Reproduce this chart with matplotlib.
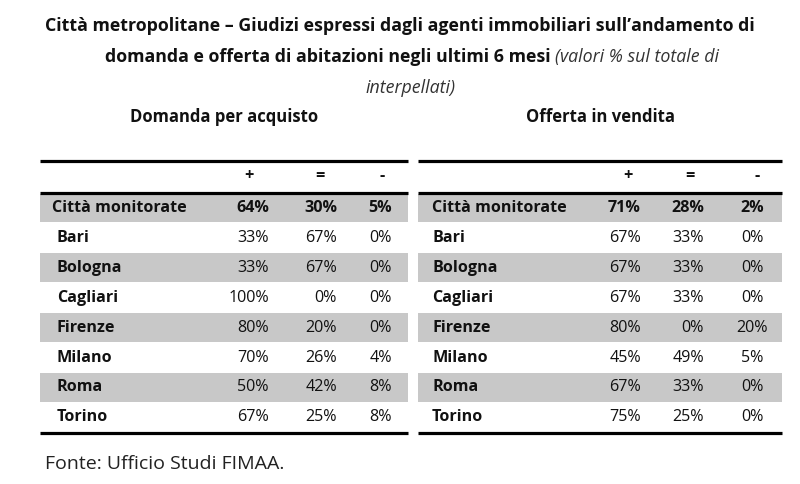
import matplotlib
matplotlib.use("Agg")
import matplotlib.pyplot as plt

plt.rcParams['font.family'] = ['Open Sans', 'DejaVu Sans']

# ── data ──────────────────────────────────────────────
cities = ["Città monitorate", "Bari", "Bologna", "Cagliari", "Firenze",
          "Milano", "Roma", "Torino"]
col_heads = ["+", "=", "-"]

dom_plus = [64, 33, 33, 100, 80, 70, 50, 67]
dom_eq = [30, 67, 67, 0, 20, 26, 42, 25]
dom_minus = [5, 0, 0, 0, 0, 4, 8, 8]

off_plus = [71, 67, 67, 67, 80, 45, 67, 75]
off_eq = [28, 33, 33, 33, 0, 49, 33, 25]
off_minus = [2, 0, 0, 0, 20, 5, 0, 0]

title1 = "Città metropolitane – Giudizi espressi dagli agenti immobiliari sull’andamento di"
title2_bold = "domanda e offerta di abitazioni negli ultimi 6 mesi "
title2_ital = "(valori % sul totale di"
title3_ital = "interpellati)"
sub_left = "Domanda per acquisto"
sub_right = "Offerta in vendita"
source = "Fonte: Ufficio Studi FIMAA."

# ── layout (pixel canvas) ─────────────────────────────
W, H = 800, 484
fig = plt.figure(figsize=(W / 100, H / 100), dpi=100)
ax = fig.add_axes([0, 0, 1, 1])
ax.set_xlim(0, W)
ax.set_ylim(H, 0)
ax.axis('off')

TXT = '#111111'
GRAY = '#c8c8c8'
row0, row_h = 208, 29.9
cell_fs = 11.6


def draw_table(x0, x1, label_x, label_indent, col_x, col_align, head_x, cols):
    rows_y = [row0 + i * row_h for i in range(len(cities))]
    # gray bands on alternate rows
    band_y = rows_y[0::2]
    ax.barh(band_y, [x1 - x0] * len(band_y), left=x0, height=row_h - 1,
            color=GRAY, zorder=0)
    # rules
    ax.hlines([161, 193, 433], x0, x1, color='black', lw=2.3)
    for hx, h in zip(head_x, col_heads):
        ax.text(hx, 176, h, ha='center', va='center', fontsize=cell_fs,
                fontweight='bold', color=TXT)
    for i, (city, y) in enumerate(zip(cities, rows_y)):
        first = i == 0
        lx = label_x if first else label_x + label_indent
        ax.text(lx, y, city, ha='left', va='center', fontsize=cell_fs,
                fontweight='bold', color=TXT)
        for cx, al, vals in zip(col_x, col_align, cols):
            ax.text(cx, y, f"{vals[i]}%", ha=al, va='center', fontsize=cell_fs,
                    fontweight='bold' if first else 'normal', color=TXT)


draw_table(40, 408, 52, 5, [269, 337, 392], ['right', 'right', 'right'],
           [249, 320, 382], [dom_plus, dom_eq, dom_minus])
draw_table(418, 782, 432, 0, [641, 704, 752], ['right', 'right', 'center'],
           [628, 690, 757], [off_plus, off_eq, off_minus])

# ── titles ────────────────────────────────────────────
tfs = 12.8
ax.text(400, 26, title1, ha='center', va='center', fontsize=tfs,
        fontweight='bold', color=TXT)
r = fig.canvas.get_renderer()
tb = ax.text(0, 57, title2_bold, ha='left', va='center', fontsize=tfs,
             fontweight='bold', color=TXT)
ti = ax.text(0, 57, title2_ital, ha='left', va='center', fontsize=tfs,
             style='italic', color='#333333')
wb = tb.get_window_extent(r).width
wi = ti.get_window_extent(r).width
start = 412 - (wb + wi) / 2
tb.set_x(start)
ti.set_x(start + wb)
ax.text(410, 88, title3_ital, ha='center', va='center', fontsize=tfs,
        style='italic', color='#333333')

ax.text(224, 117, sub_left, ha='center', va='center', fontsize=12,
        fontweight='bold', color=TXT)
ax.text(600, 117, sub_right, ha='center', va='center', fontsize=12,
        fontweight='bold', color=TXT)

ax.text(45, 464, source, ha='left', va='center', fontsize=14, color='#222222')

fig.savefig("out.png", dpi=100)
